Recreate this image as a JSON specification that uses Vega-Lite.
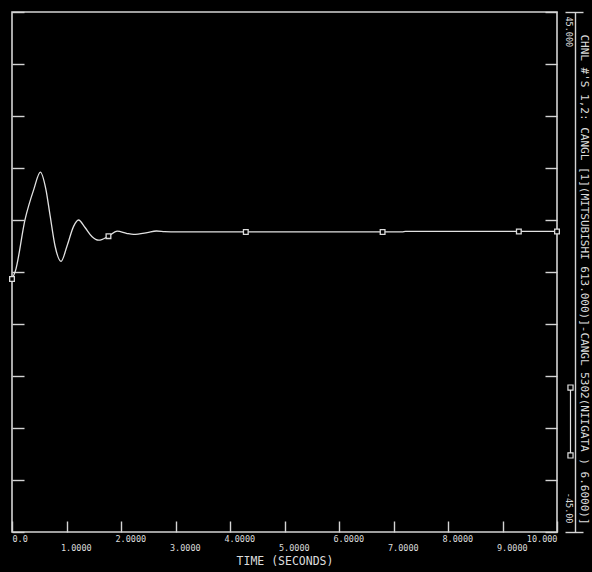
{
  "$schema": "https://vega.github.io/schema/vega-lite/v6.json",
  "width": 545,
  "height": 520,
  "autosize": {"type": "none"},
  "padding": {"left": 12, "top": 12, "right": 35, "bottom": 40},
  "background": "#000000",
  "config": {
    "view": {"stroke": "#d4d4d4", "strokeWidth": 1.6, "fill": "#000000"},
    "axis": {
      "labelFont": "DejaVu Sans Mono",
      "labelColor": "#dcdcdc",
      "titleFont": "DejaVu Sans Mono",
      "titleColor": "#dcdcdc",
      "titleFontWeight": "normal",
      "tickColor": "#d4d4d4",
      "domainColor": "#d4d4d4",
      "grid": false,
      "tickWidth": 1.4,
      "domainWidth": 1.4
    }
  },
  "datasets": {
    "trace": [
      {"t": 0, "v": -1.2, "channel": "CANGL"},
      {"t": 0.06, "v": 0.1, "channel": "CANGL"},
      {"t": 0.24, "v": 9.1, "channel": "CANGL"},
      {"t": 0.4, "v": 14.3, "channel": "CANGL"},
      {"t": 0.52, "v": 17.3, "channel": "CANGL"},
      {"t": 0.62, "v": 14.4, "channel": "CANGL"},
      {"t": 0.7, "v": 9.7, "channel": "CANGL"},
      {"t": 0.79, "v": 4.5, "channel": "CANGL"},
      {"t": 0.9, "v": 1.85, "channel": "CANGL"},
      {"t": 1.01, "v": 4.5, "channel": "CANGL"},
      {"t": 1.13, "v": 7.9, "channel": "CANGL"},
      {"t": 1.22, "v": 9.0, "channel": "CANGL"},
      {"t": 1.34, "v": 7.7, "channel": "CANGL"},
      {"t": 1.47, "v": 6.1, "channel": "CANGL"},
      {"t": 1.59, "v": 5.5, "channel": "CANGL"},
      {"t": 1.77, "v": 6.2, "channel": "CANGL"},
      {"t": 1.93, "v": 7.07, "channel": "CANGL"},
      {"t": 2.1, "v": 6.7, "channel": "CANGL"},
      {"t": 2.23, "v": 6.5, "channel": "CANGL"},
      {"t": 2.48, "v": 6.8, "channel": "CANGL"},
      {"t": 2.65, "v": 7.1, "channel": "CANGL"},
      {"t": 2.8, "v": 7.0, "channel": "CANGL"},
      {"t": 3.0, "v": 6.93, "channel": "CANGL"},
      {"t": 4.29, "v": 6.93, "channel": "CANGL"},
      {"t": 6.8, "v": 6.93, "channel": "CANGL"},
      {"t": 7.16, "v": 6.95, "channel": "CANGL"},
      {"t": 7.22, "v": 7.02, "channel": "CANGL"},
      {"t": 9.3, "v": 7.02, "channel": "CANGL"},
      {"t": 10, "v": 7.02, "channel": "CANGL"}
    ],
    "markers": [
      {"t": 0, "v": -1.2},
      {"t": 1.77, "v": 6.2},
      {"t": 4.29, "v": 6.93},
      {"t": 6.8, "v": 6.93},
      {"t": 9.3, "v": 7.02},
      {"t": 10, "v": 7.02}
    ]
  },
  "layer": [
    {
      "data": {"name": "trace"},
      "mark": {"type": "line", "interpolate": "monotone", "strokeWidth": 1.3},
      "encoding": {
        "x": {
          "field": "t",
          "type": "quantitative",
          "scale": {"domain": [0, 10], "nice": false, "zero": false},
          "axis": {
            "orient": "bottom",
            "values": [0, 1, 2, 3, 4, 5, 6, 7, 8, 9, 10],
            "tickSize": -11,
            "domain": false,
            "labelFontSize": 8.5,
            "labelExpr": "datum.value == 0 ? '0.0' : datum.value == 10 ? '10.000' : format(datum.value, '.4f')",
            "labelAlign": {"condition": {"test": "datum.value == 10", "value": "right"}, "value": "left"},
            "labelOffset": {"condition": {"test": "datum.value == 0 || datum.value == 10", "value": 0}, "value": -6},
            "labelPadding": {"condition": {"test": "datum.value % 2 == 1", "value": 22}, "value": 13},
            "labelBaseline": "top",
            "labelFlush": false,
            "labelOverlap": false,
            "labelBound": false,
            "title": "TIME  (SECONDS)",
            "titleFontSize": 11.5,
            "titlePadding": 4
          }
        },
        "y": {
          "field": "v",
          "type": "quantitative",
          "scale": {"domain": [-45, 45], "nice": false, "zero": false},
          "axis": {
            "orient": "left",
            "values": [-45, -36, -27, -18, -9, 0, 9, 18, 27, 36, 45],
            "tickSize": -12,
            "labels": false,
            "domain": false,
            "title": null
          }
        },
        "stroke": {
          "field": "channel",
          "type": "nominal",
          "scale": {"range": ["#e2e2e2"]},
          "legend": {
            "title": null,
            "orient": "none",
            "legendX": 521,
            "legendY": 372,
            "padding": 0,
            "symbolType": "M0,-0.86L0,0.86M-0.07,-1L0.07,-1L0.07,-0.86L-0.07,-0.86ZM-0.07,0.86L0.07,0.86L0.07,1L-0.07,1Z",
            "symbolSize": 5329,
            "symbolStrokeWidth": 1.2,
            "symbolFillColor": "#000000",
            "labelExpr": "''"
          }
        }
      }
    },
    {
      "data": {"name": "markers"},
      "mark": {"type": "point", "shape": "square", "size": 22, "filled": true, "fill": "#000000", "stroke": "#dcdcdc", "strokeWidth": 1.3, "opacity": 1},
      "encoding": {
        "x": {"field": "t", "type": "quantitative", "axis": null},
        "y": {
          "field": "v",
          "type": "quantitative",
          "axis": {
            "orient": "right",
            "values": [-45, -36, -27, -18, -9, 0, 9, 18, 27, 36, 45],
            "tickSize": -12,
            "labels": false,
            "domain": false,
            "title": null
          }
        }
      }
    },
    {
      "data": {"name": "markers"},
      "mark": {"type": "point", "opacity": 0},
      "encoding": {
        "x": {"field": "t", "type": "quantitative", "axis": null},
        "y": {
          "field": "v",
          "type": "quantitative",
          "axis": {
            "orient": "right",
            "offset": 8,
            "values": [-45, 45],
            "tickSize": 18,
            "domain": false,
            "labelAngle": 90,
            "labelAlign": {"condition": {"test": "datum.value > 0", "value": "left"}, "value": "right"},
            "labelBaseline": "middle",
            "labelPadding": -15,
            "labelOffset": {"condition": {"test": "datum.value > 0", "value": 4}, "value": -9},
            "labelExpr": "datum.value > 0 ? '45.000' : '-45.00'",
            "labelFontSize": 8.5,
            "labelFlush": false,
            "labelOverlap": false,
            "labelBound": false,
            "title": null
          }
        }
      }
    },
    {
      "data": {"name": "markers"},
      "mark": {"type": "point", "opacity": 0},
      "encoding": {
        "x": {"field": "t", "type": "quantitative", "axis": null},
        "y": {
          "field": "v",
          "type": "quantitative",
          "axis": {
            "orient": "right",
            "offset": 18,
            "ticks": false,
            "labels": false,
            "domain": true,
            "title": "CHNL #'S 1,2: CANGL  [1](MITSUBISHI 613.000)]-CANGL  5302(NIIGATA )  6.6000)]",
            "titleAngle": 90,
            "titleBaseline": "middle",
            "titleFontSize": 11,
            "titlePadding": 8,
            "titleLimit": 1000,
            "titleY": 267
          }
        }
      }
    }
  ],
  "resolve": {"axis": {"x": "independent", "y": "independent"}}
}
